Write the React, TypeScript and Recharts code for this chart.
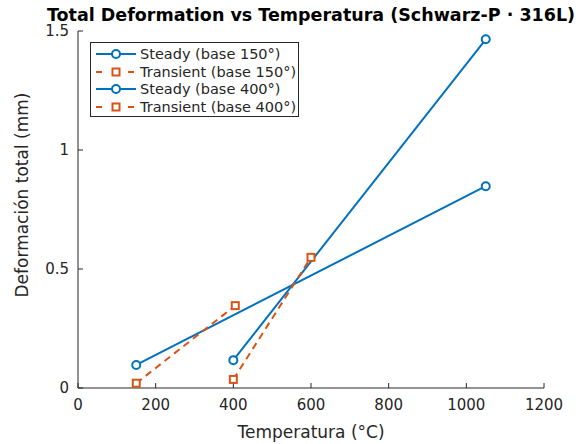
import React from 'react';
import { LineChart, Line, XAxis, YAxis, CartesianGrid } from 'recharts';

const xTicks = [0, 200, 400, 600, 800, 1000, 1200];
const yTicks = [0, 0.5, 1, 1.5];

const steady150 = [
  { t: 150, d: 0.097 },
  { t: 1050, d: 0.848 },
];
const transient150 = [
  { t: 150, d: 0.02 },
  { t: 405, d: 0.346 },
];
const steady400 = [
  { t: 400, d: 0.117 },
  { t: 1050, d: 1.465 },
];
const transient400 = [
  { t: 400, d: 0.036 },
  { t: 600, d: 0.549 },
];

const BLUE = '#0072BD';
const ORANGE = '#D95319';
const FONT = 'DejaVu Sans, sans-serif';

const CircleDot = (props: any) => {
  const { cx, cy } = props;
  return <circle cx={cx} cy={cy} r={4} fill="white" stroke={BLUE} strokeWidth={2} />;
};

const SquareDot = (props: any) => {
  const { cx, cy } = props;
  return <rect x={cx - 3.5} y={cy - 3.5} width={7} height={7} fill="white" stroke={ORANGE} strokeWidth={2} />;
};

const legendItems = [
  { name: 'Steady (base 150°)', color: BLUE, dashed: false },
  { name: 'Transient (base 150°)', color: ORANGE, dashed: true },
  { name: 'Steady (base 400°)', color: BLUE, dashed: false },
  { name: 'Transient (base 400°)', color: ORANGE, dashed: true },
];

const Legend = () => (
  <div
    style={{
      position: 'absolute',
      left: 90,
      top: 42,
      width: 209,
      height: 75,
      border: '1px solid #262626',
      background: 'white',
      fontFamily: FONT,
      fontSize: 14.5,
      color: '#262626',
      boxSizing: 'border-box',
    }}
  >
    {legendItems.map((it, i) => (
      <div key={i} style={{ position: 'absolute', left: 3, top: 2 + i * 17.7, height: 18, display: 'flex', alignItems: 'center' }}>
        <svg width={45} height={14}>
          <line x1={2} y1={7} x2={42} y2={7} stroke={it.color} strokeWidth={2} strokeDasharray={it.dashed ? '6 10' : undefined} />
          {it.dashed ? (
            <rect x={18.5} y={3.5} width={7} height={7} fill="white" stroke={it.color} strokeWidth={2} />
          ) : (
            <circle cx={22} cy={7} r={4} fill="white" stroke={it.color} strokeWidth={2} />
          )}
        </svg>
        <span style={{ marginLeft: 1, whiteSpace: 'nowrap' }}>{it.name}</span>
      </div>
    ))}
  </div>
);

export default function App() {
  return (
    <div style={{ position: 'absolute', left: 0, top: 0, width: 583, height: 444, background: 'white' }}>
      <LineChart width={583} height={444} margin={{ top: 31, right: 39, left: 0, bottom: 0 }}>
        <CartesianGrid stroke="#e5e5e5" strokeWidth={1} horizontalValues={yTicks} verticalValues={xTicks} />
        <XAxis
          xAxisId="b"
          dataKey="t"
          type="number"
          domain={[0, 1200]}
          ticks={xTicks}
          height={56}
          stroke="#262626"
          tickSize={-5}
          tick={{ fill: '#262626', fontSize: 15, fontFamily: FONT, dy: 14 }}
          label={{ value: 'Temperatura (°C)', position: 'insideBottom', offset: 6, fill: '#262626', fontSize: 17, fontFamily: FONT }}
        />
        <XAxis xAxisId="t" orientation="top" type="number" domain={[0, 1200]} ticks={xTicks} height={0} stroke="#262626" tickSize={-5} tick={false} />
        <YAxis
          yAxisId="l"
          type="number"
          domain={[0, 1.5]}
          ticks={yTicks}
          width={78}
          stroke="#262626"
          tickSize={-5}
          tick={{ fill: '#262626', fontSize: 15, fontFamily: FONT, dx: -12 }}
          label={{ value: 'Deformación total (mm)', angle: -90, position: 'insideLeft', offset: 22, dy: 88, fill: '#262626', fontSize: 17, fontFamily: FONT }}
        />
        <YAxis yAxisId="r" orientation="right" type="number" domain={[0, 1.5]} ticks={yTicks} width={0} stroke="#262626" tickSize={-5} tick={false} />
        <Line xAxisId="b" yAxisId="l" data={steady150} dataKey="d" stroke={BLUE} strokeWidth={2} dot={<CircleDot />} isAnimationActive={false} />
        <Line xAxisId="b" yAxisId="l" data={transient150} dataKey="d" stroke={ORANGE} strokeWidth={2} strokeDasharray="7 5" dot={<SquareDot />} isAnimationActive={false} />
        <Line xAxisId="b" yAxisId="l" data={steady400} dataKey="d" stroke={BLUE} strokeWidth={2} dot={<CircleDot />} isAnimationActive={false} />
        <Line xAxisId="b" yAxisId="l" data={transient400} dataKey="d" stroke={ORANGE} strokeWidth={2} strokeDasharray="7 5" dot={<SquareDot />} isAnimationActive={false} />
      </LineChart>
      <div
        style={{
          position: 'absolute',
          left: 0,
          width: 622,
          top: 5,
          textAlign: 'center',
          fontFamily: FONT,
          fontWeight: 'bold',
          fontSize: 17.5,
          color: '#000',
          whiteSpace: 'nowrap',
        }}
      >
        Total Deformation vs Temperatura (Schwarz-P · 316L)
      </div>
      <Legend />
    </div>
  );
}
